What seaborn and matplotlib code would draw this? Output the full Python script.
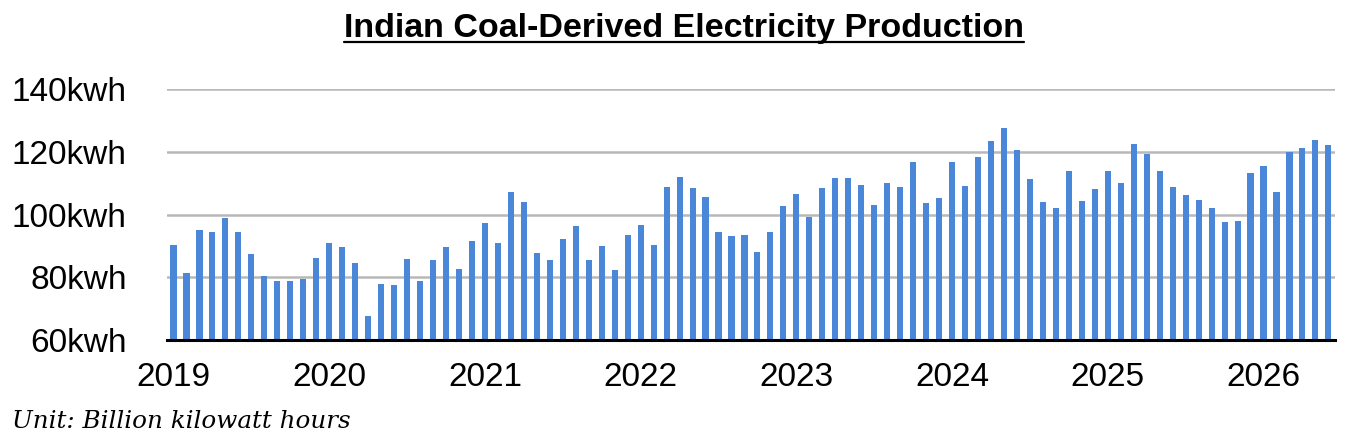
import pandas as pd
import seaborn as sns
import matplotlib.pyplot as plt
from matplotlib.lines import Line2D

# Monthly coal-derived electricity, Jan 2019 - Jun 2026 (billion kWh)
meses = pd.date_range("2019-01-01", periods=90, freq="MS").strftime("%Y-%m").tolist()
produccion = [
    90.3, 81.4, 95.0, 94.4, 98.8, 94.4, 87.4, 80.4, 78.8, 78.8, 79.5, 86.1,   # 2019
    90.9, 89.6, 84.6, 67.7, 77.9, 77.6, 85.8, 78.8, 85.5, 89.6, 82.6, 91.5,   # 2020
    97.2, 90.9, 107.1, 103.9, 87.7, 85.5, 92.2, 96.3, 85.5, 90.0, 82.3, 93.4,  # 2021
    96.6, 90.3, 108.7, 111.9, 108.4, 105.5, 94.4, 93.1, 93.4, 88.0, 94.4, 102.6,  # 2022
    106.5, 99.2, 108.4, 111.5, 111.5, 109.3, 103.0, 109.9, 108.7, 116.9, 103.6, 105.2,  # 2023
    116.9, 109.0, 118.5, 123.6, 127.7, 120.7, 111.2, 103.9, 102.0, 114.0, 104.2, 108.0,  # 2024
    113.8, 110.0, 122.6, 119.2, 114.0, 108.7, 106.1, 104.6, 102.0, 97.6, 97.9, 113.4,  # 2025
    115.6, 107.1, 119.8, 121.1, 123.9, 122.3,  # 2026
]
anios = ["2019", "2020", "2021", "2022", "2023", "2024", "2025", "2026"]
y_ticks = [60, 80, 100, 120, 140]

df = pd.DataFrame({"Mes": meses, "Produccion": produccion})

sns.set_style("white")
plt.rcParams["font.family"] = ["Liberation Sans", "DejaVu Sans"]
plt.rcParams["text.color"] = "black"
plt.rcParams["xtick.color"] = "black"
plt.rcParams["ytick.color"] = "black"

fig = plt.figure(figsize=(13.47, 4.41), dpi=100)
ax = fig.add_axes([0.124, 0.229, 0.867, 0.569])

sns.barplot(data=df, x="Mes", y="Produccion", order=meses, color="#4a87d9",
            saturation=1, width=0.47, linewidth=0, ax=ax)
for barra in ax.patches:
    barra.set_zorder(3)

ax.set_ylim(60, 140)
ax.set_xlim(-0.5, len(meses) - 0.5)
ax.set_yticks(y_ticks)
ax.set_yticklabels([f"{v}kwh" for v in y_ticks])
ax.set_xticks(range(0, len(meses), 12))
ax.set_xticklabels(anios)
ax.tick_params(axis="y", length=0, labelsize=24, pad=29)
ax.tick_params(axis="x", length=0, labelsize=24, pad=16)
ax.set_xlabel("")
ax.set_ylabel("")

ax.yaxis.grid(True, color="#b8b8b8", linewidth=1.8)
ax.set_axisbelow(True)
for lado in ["top", "right", "left"]:
    ax.spines[lado].set_visible(False)
ax.spines["bottom"].set_color("black")
ax.spines["bottom"].set_linewidth(2.2)
ax.spines["bottom"].set_zorder(5)

# Title with underline
titulo = fig.text(0.508, 1 - 37 / 441, "Indian Coal-Derived Electricity Production",
                  ha="center", va="baseline", fontsize=24.5, fontweight="bold")
fig.canvas.draw()
bb = titulo.get_window_extent().transformed(fig.transFigure.inverted())
y_linea = 1 - 42 / 441
fig.add_artist(Line2D([bb.x0, bb.x1], [y_linea, y_linea], color="black",
                      linewidth=1.6, transform=fig.transFigure))

fig.text(12 / 1347, 1 - 428 / 441, "Unit: Billion kilowatt hours",
         ha="left", va="baseline", fontsize=17.7, style="italic",
         family=["DejaVu Serif"])

fig.savefig("out.png", dpi=100)
